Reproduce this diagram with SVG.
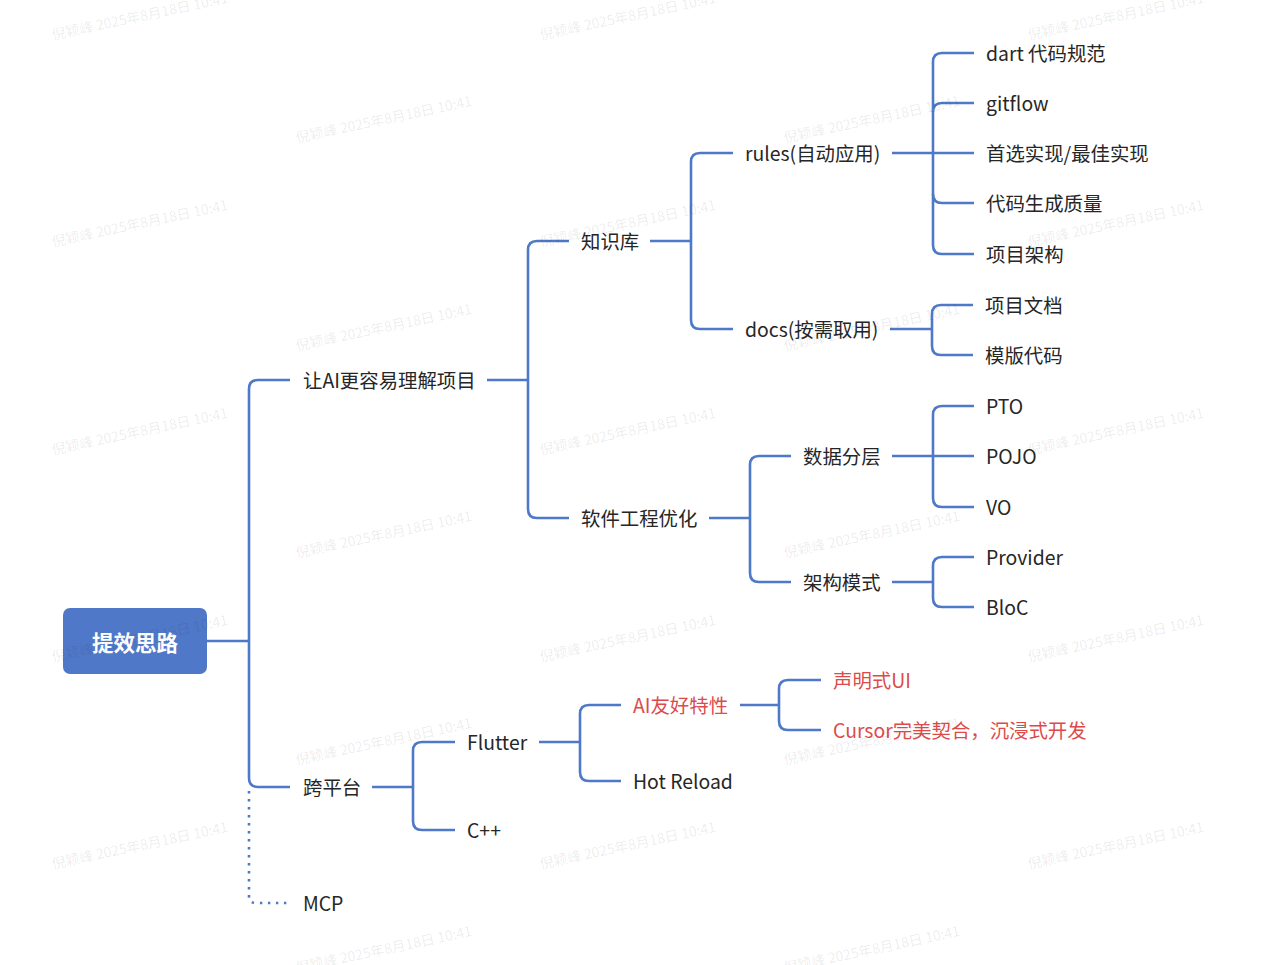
<svg xmlns="http://www.w3.org/2000/svg" width="1267" height="965" viewBox="0 0 1267 965">
<style>
.bg{fill:#ffffff}
.ln{fill:none;stroke:#4E78C8;stroke-width:2.6;stroke-linecap:butt;stroke-linejoin:round}
.dot{fill:none;stroke:#4E78C8;stroke-width:2.6;stroke-dasharray:2.4 5.6}
.t{font-family:"Noto Sans CJK SC","Noto Sans",sans-serif;font-size:19.4px;fill:#262626;dominant-baseline:central;transform:translateY(-1px)}
.r{fill:#DC4B4B}
.root{fill:#5078C8}
.rt{font-family:"Noto Sans CJK SC","Noto Sans",sans-serif;font-size:21.5px;font-weight:bold;fill:#ffffff;dominant-baseline:central;text-anchor:middle}
.wm{font-family:"Noto Sans CJK SC","Noto Sans",sans-serif;font-size:14px;fill:#000000;fill-opacity:0.085}
</style>
<rect class="bg" x="0" y="0" width="1267" height="965"/>

<g id="connectors">
  <path class="ln" d="M207 641 H249"/>
  <path class="ln" d="M290 380 H258 Q249 380 249 389 V778 Q249 787 258 787 H290"/>
  <path class="dot" d="M249 791 V896 Q249 903 256 903 H290"/>
  <path class="ln" d="M487 380 H528"/>
  <path class="ln" d="M569 241 H537 Q528 241 528 250 V509 Q528 518 537 518 H569"/>
  <path class="ln" d="M650 241 H691"/>
  <path class="ln" d="M733 153 H700 Q691 153 691 162 V320 Q691 329 700 329 H733"/>
  <path class="ln" d="M892 153 H933"/>
  <path class="ln" d="M974 53 H942 Q933 53 933 62 V245 Q933 254 942 254 H974"/>
  <path class="ln" d="M933 112 Q933 103 942 103 H974"/>
  <path class="ln" d="M933 153 H974"/>
  <path class="ln" d="M933 194 Q933 203 942 203 H974"/>
  <path class="ln" d="M890 329 H932"/>
  <path class="ln" d="M973 305 H941 Q932 305 932 314 V346 Q932 355 941 355 H973"/>
  <path class="ln" d="M709 518 H750"/>
  <path class="ln" d="M791 456 H759 Q750 456 750 465 V573 Q750 582 759 582 H791"/>
  <path class="ln" d="M892 456 H933"/>
  <path class="ln" d="M974 406 H942 Q933 406 933 415 V498 Q933 507 942 507 H974"/>
  <path class="ln" d="M933 456 H974"/>
  <path class="ln" d="M892 582 H933"/>
  <path class="ln" d="M974 557 H942 Q933 557 933 566 V598 Q933 607 942 607 H974"/>
  <path class="ln" d="M372 787 H413"/>
  <path class="ln" d="M455 742 H422 Q413 742 413 751 V821 Q413 830 422 830 H455"/>
  <path class="ln" d="M539 742 H580"/>
  <path class="ln" d="M621 705 H589 Q580 705 580 714 V772 Q580 781 589 781 H621"/>
  <path class="ln" d="M740 705 H779"/>
  <path class="ln" d="M821 680 H788 Q779 680 779 689 V721 Q779 730 788 730 H821"/>
</g>

<g id="root"><rect class="root" x="63" y="608" width="144" height="66" rx="7"/><text class="rt" x="135" y="641">提效思路</text></g>
<g id="n-ai"><text class="t" x="303" y="380">让AI更容易理解项目</text></g>
<g id="n-kua"><text class="t" x="303" y="787">跨平台</text></g>
<g id="n-mcp"><text class="t" x="303" y="903">MCP</text></g>
<g id="n-zsk"><text class="t" x="581" y="241">知识库</text></g>
<g id="n-rjgc"><text class="t" x="581" y="518">软件工程优化</text></g>
<g id="n-rules"><text class="t" x="745" y="153">rules(自动应用)</text></g>
<g id="n-docs"><text class="t" x="745" y="329">docs(按需取用)</text></g>
<g id="n-dart"><text class="t" x="986" y="53">dart 代码规范</text></g>
<g id="n-gitflow"><text class="t" x="986" y="103">gitflow</text></g>
<g id="n-sx"><text class="t" x="986" y="153">首选实现/最佳实现</text></g>
<g id="n-dmsc"><text class="t" x="986" y="203">代码生成质量</text></g>
<g id="n-xmjg"><text class="t" x="986" y="254">项目架构</text></g>
<g id="n-xmwd"><text class="t" x="985" y="305">项目文档</text></g>
<g id="n-mbdm"><text class="t" x="985" y="355">模版代码</text></g>
<g id="n-sjfc"><text class="t" x="803" y="456">数据分层</text></g>
<g id="n-jgms"><text class="t" x="803" y="582">架构模式</text></g>
<g id="n-pto"><text class="t" x="986" y="406">PTO</text></g>
<g id="n-pojo"><text class="t" x="986" y="456">POJO</text></g>
<g id="n-vo"><text class="t" x="986" y="507">VO</text></g>
<g id="n-provider"><text class="t" x="986" y="557">Provider</text></g>
<g id="n-bloc"><text class="t" x="986" y="607">BloC</text></g>
<g id="n-flutter"><text class="t" x="467" y="742">Flutter</text></g>
<g id="n-cpp"><text class="t" x="467" y="830">C++</text></g>
<g id="n-aiyh"><text class="t r" x="633" y="705">AI友好特性</text></g>
<g id="n-hot"><text class="t" x="633" y="781">Hot Reload</text></g>
<g id="n-smui"><text class="t r" x="833" y="680">声明式UI</text></g>
<g id="n-cursor"><text class="t r" x="833" y="730">Cursor完美契合，沉浸式开发</text></g>

<g id="watermarks" class="wm">
  <text transform="translate(53 40) rotate(-12)">倪颖峰 2025年8月18日 10:41</text>
  <text transform="translate(541 40) rotate(-12)">倪颖峰 2025年8月18日 10:41</text>
  <text transform="translate(1029 40) rotate(-12)">倪颖峰 2025年8月18日 10:41</text>
  <text transform="translate(53 247) rotate(-12)">倪颖峰 2025年8月18日 10:41</text>
  <text transform="translate(541 247) rotate(-12)">倪颖峰 2025年8月18日 10:41</text>
  <text transform="translate(1029 247) rotate(-12)">倪颖峰 2025年8月18日 10:41</text>
  <text transform="translate(53 455) rotate(-12)">倪颖峰 2025年8月18日 10:41</text>
  <text transform="translate(541 455) rotate(-12)">倪颖峰 2025年8月18日 10:41</text>
  <text transform="translate(1029 455) rotate(-12)">倪颖峰 2025年8月18日 10:41</text>
  <text transform="translate(53 662) rotate(-12)">倪颖峰 2025年8月18日 10:41</text>
  <text transform="translate(541 662) rotate(-12)">倪颖峰 2025年8月18日 10:41</text>
  <text transform="translate(1029 662) rotate(-12)">倪颖峰 2025年8月18日 10:41</text>
  <text transform="translate(53 869) rotate(-12)">倪颖峰 2025年8月18日 10:41</text>
  <text transform="translate(541 869) rotate(-12)">倪颖峰 2025年8月18日 10:41</text>
  <text transform="translate(1029 869) rotate(-12)">倪颖峰 2025年8月18日 10:41</text>
  <text transform="translate(297 143) rotate(-12)">倪颖峰 2025年8月18日 10:41</text>
  <text transform="translate(785 143) rotate(-12)">倪颖峰 2025年8月18日 10:41</text>
  <text transform="translate(297 351) rotate(-12)">倪颖峰 2025年8月18日 10:41</text>
  <text transform="translate(785 351) rotate(-12)">倪颖峰 2025年8月18日 10:41</text>
  <text transform="translate(297 558) rotate(-12)">倪颖峰 2025年8月18日 10:41</text>
  <text transform="translate(785 558) rotate(-12)">倪颖峰 2025年8月18日 10:41</text>
  <text transform="translate(297 765) rotate(-12)">倪颖峰 2025年8月18日 10:41</text>
  <text transform="translate(785 765) rotate(-12)">倪颖峰 2025年8月18日 10:41</text>
  <text transform="translate(297 973) rotate(-12)">倪颖峰 2025年8月18日 10:41</text>
  <text transform="translate(785 973) rotate(-12)">倪颖峰 2025年8月18日 10:41</text>
</g>
</svg>
